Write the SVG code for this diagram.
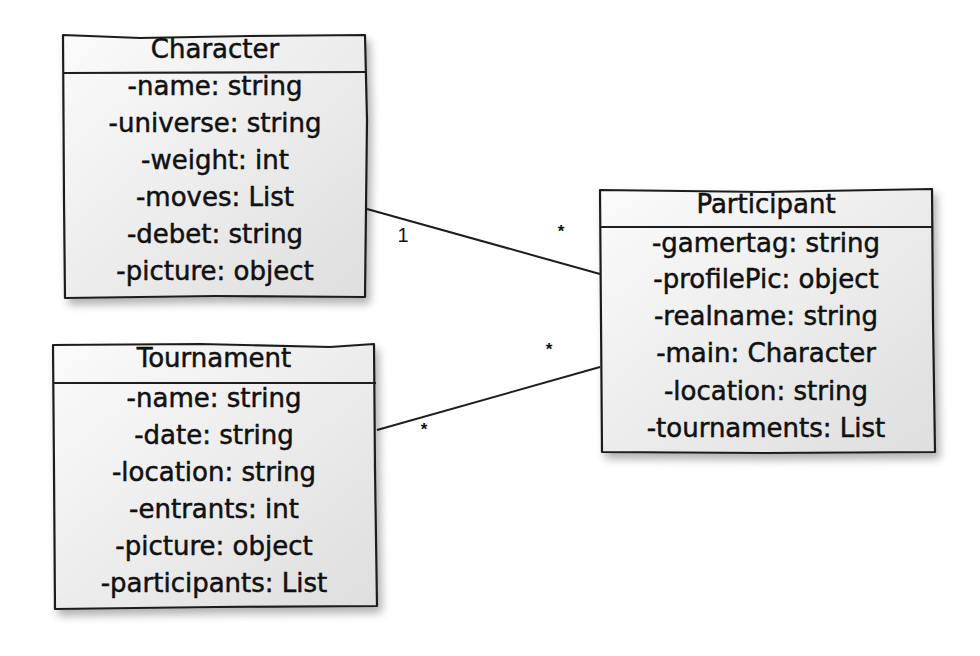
<svg xmlns="http://www.w3.org/2000/svg" width="980" height="656" viewBox="0 0 980 656">
<defs>
<linearGradient id="fillg" x1="0" y1="0" x2="1" y2="1">
<stop offset="0" stop-color="#fbfbfb"/>
<stop offset="1" stop-color="#dedede"/>
</linearGradient>
<filter id="shadow" x="-10%" y="-10%" width="130%" height="130%">
<feDropShadow dx="4" dy="6" stdDeviation="4" flood-color="#000" flood-opacity="0.3"/>
</filter>
</defs>
<style>
.box{fill:url(#fillg);stroke:#1e1e1e;stroke-width:2.2;stroke-linejoin:round;filter:url(#shadow)}
.div{fill:none;stroke:#1e1e1e;stroke-width:2.2}
.t{font-family:"DejaVu Sans","Liberation Sans",sans-serif;font-size:26px;fill:#111;stroke:#111;stroke-width:0.5;text-anchor:middle}
.conn{fill:none;stroke:#1e1e1e;stroke-width:2}
.lbl{font-family:"Liberation Sans",Arial,sans-serif;fill:#111;text-anchor:middle}
</style>
<rect width="980" height="656" fill="#fff"/>
<g id="connectors">
<path class="conn" d="M367,209 L600,274"/>
<path class="conn" d="M377,430 L600,367"/>
<text class="lbl" x="403" y="242" font-size="20">1</text>
<text class="lbl" x="561" y="237" font-size="17" font-weight="bold">*</text>
<text class="lbl" x="549" y="355" font-size="17" font-weight="bold">*</text>
<text class="lbl" x="424" y="435" font-size="17" font-weight="bold">*</text>
</g>
<g id="character">
<path class="box" d="M63,35 L140,38 L250,36 L365,35 L367,120 L365,297 L215,296 L65,298 L64,200 Z"/>
<path class="div" d="M63,73 L365,72"/>
<text class="t" x="215" y="58">Character</text>
<text class="t" x="215" y="95">-name: string</text>
<text class="t" x="215" y="132">-universe: string</text>
<text class="t" x="215" y="169">-weight: int</text>
<text class="t" x="215" y="206">-moves: List</text>
<text class="t" x="215" y="243">-debet: string</text>
<text class="t" x="215" y="280">-picture: object</text>
</g>
<g id="tournament">
<path class="box" d="M53,345 L200,344 L330,347 L374,344 L375,470 L377,606 L215,607 L55,609 L54,470 Z"/>
<path class="div" d="M53,383 L376,383"/>
<text class="t" x="214" y="367">Tournament</text>
<text class="t" x="214" y="407">-name: string</text>
<text class="t" x="214" y="444">-date: string</text>
<text class="t" x="214" y="481">-location: string</text>
<text class="t" x="214" y="518">-entrants: int</text>
<text class="t" x="214" y="555">-picture: object</text>
<text class="t" x="214" y="592">-participants: List</text>
</g>
<g id="participant">
<path class="box" d="M600,190 L765,192 L932,189 L933,320 L935,452 L765,453 L602,452 L601,320 Z"/>
<path class="div" d="M600,227 L933,227"/>
<text class="t" x="766" y="213">Participant</text>
<text class="t" x="766" y="252">-gamertag: string</text>
<text class="t" x="766" y="288">-profilePic: object</text>
<text class="t" x="766" y="325">-realname: string</text>
<text class="t" x="766" y="362">-main: Character</text>
<text class="t" x="766" y="400">-location: string</text>
<text class="t" x="766" y="437">-tournaments: List</text>
</g>
</svg>
